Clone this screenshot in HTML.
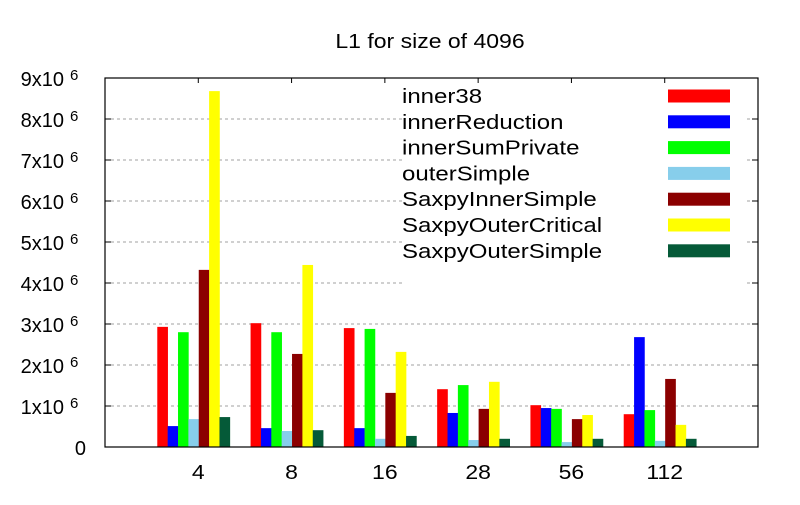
<!DOCTYPE html>
<html><head><meta charset="utf-8"><style>
body{margin:0;background:#fff}
svg text{font-family:"Liberation Sans",sans-serif;fill:#000}
</style></head><body>
<svg id="chart" width="800" height="500" xmlns="http://www.w3.org/2000/svg">
<rect width="800" height="500" fill="#fff"/>
<text id="title" x="430" y="48" font-size="20" text-anchor="middle">L1 for size of 4096</text>
<g id="grid"></g>
<g id="bars"></g>
<rect x="404" y="80" width="340" height="208" fill="#fff"/>
<g id="legend"></g>
<g id="axes"></g>
</svg>
<script>
const categories = ["4","8","16","28","56","112"];
const seriesNames = ["inner38","innerReduction","innerSumPrivate","outerSimple","SaxpyInnerSimple","SaxpyOuterCritical","SaxpyOuterSimple"];
const seriesColors = ["#ff0000","#0000ff","#00ff00","#87ceeb","#8b0000","#ffff00","#055a38"];
const inner38 = [2.93,3.02,2.90,1.41,1.02,0.80];
const innerReduction = [0.51,0.46,0.46,0.83,0.95,2.68];
const innerSumPrivate = [2.80,2.80,2.88,1.51,0.93,0.90];
const outerSimple = [0.68,0.39,0.20,0.17,0.12,0.15];
const saxpyInnerSimple = [4.32,2.27,1.32,0.93,0.68,1.66];
const saxpyOuterCritical = [8.68,4.44,2.32,1.59,0.78,0.54];
const saxpyOuterSimple = [0.73,0.41,0.27,0.20,0.20,0.20];
const yTicks = [0,1,2,3,4,5,6,7,8,9];

const series = [inner38,innerReduction,innerSumPrivate,outerSimple,saxpyInnerSimple,saxpyOuterCritical,saxpyOuterSimple];
const NS="http://www.w3.org/2000/svg";
const L=105,R=758,T=78,B=447,yMax=9;
const xUnit=(R-L)/7;
const xc=i=>L+(i+1)*xUnit;
const y=v=>B-(v/yMax)*(B-T);
const bw=xUnit/9;
function mk(tag,attrs,parent){const e=document.createElementNS(NS,tag);for(const k in attrs)e.setAttribute(k,attrs[k]);parent.appendChild(e);return e;}
function stretch(el,f){const w=el.getComputedTextLength();el.setAttribute('textLength',w*f);el.setAttribute('lengthAdjust','spacingAndGlyphs');}
const grid=document.getElementById('grid'),bars=document.getElementById('bars'),axes=document.getElementById('axes'),legend=document.getElementById('legend');
stretch(document.getElementById('title'),1.15);
yTicks.forEach(t=>{
  if(t>0&&t<9){const g=mk('line',{x1:L,x2:R,y1:y(t),y2:y(t),stroke:'#a0a0a0','stroke-dasharray':'3,3','stroke-width':1},grid);
  
  }
  if(t===0){const tx=mk('text',{x:86,y:y(t)+8,'font-size':20,'text-anchor':'end'},axes);tx.textContent='0';
    
    }
  else{
    const tx=mk('text',{x:64,y:y(t)+8,'font-size':20,'text-anchor':'end'},axes);
    tx.textContent=t+'x10';
    
    
    const s=mk('text',{x:70,y:y(t)+2,'font-size':15},axes);s.textContent='6';
    
    
  }
  [[L,L+6],[R,R-6]].forEach(([a,b])=>{const tk=mk('line',{x1:a,x2:b,y1:y(t),y2:y(t),stroke:'#000'},axes);
  
  });
});
categories.forEach((c,i)=>{
  series.forEach((s,j)=>{
    const x0=xc(i)-41+j*bw;
    const r=mk('rect',{x:x0,y:y(s[i]),width:bw+0.3,height:B-y(s[i]),fill:seriesColors[j]},bars);
    
    
  });
  const lb=mk('text',{x:xc(i),y:479,'font-size':20,'text-anchor':'middle'},axes);
  lb.textContent=c;
  
  
  stretch(lb,1.15);
  const tk=mk('line',{x1:xc(i),x2:xc(i),y1:T,y2:T+5,stroke:'#000'},axes);
  
  
});
const fr=mk('rect',{x:L,y:T,width:R-L,height:B-T,fill:'none',stroke:'#000','stroke-width':1.2},axes);


seriesNames.forEach((n,j)=>{
  const cy=96+j*25.8;
  const t=mk('text',{x:402,y:cy+7,'font-size':20},legend);
  t.textContent=n;
  
  
  stretch(t,1.2);
  const sw=mk('rect',{x:668,y:cy-6.5,width:62,height:13,fill:seriesColors[j]},legend);
  
  
});
</script>
</body></html>
